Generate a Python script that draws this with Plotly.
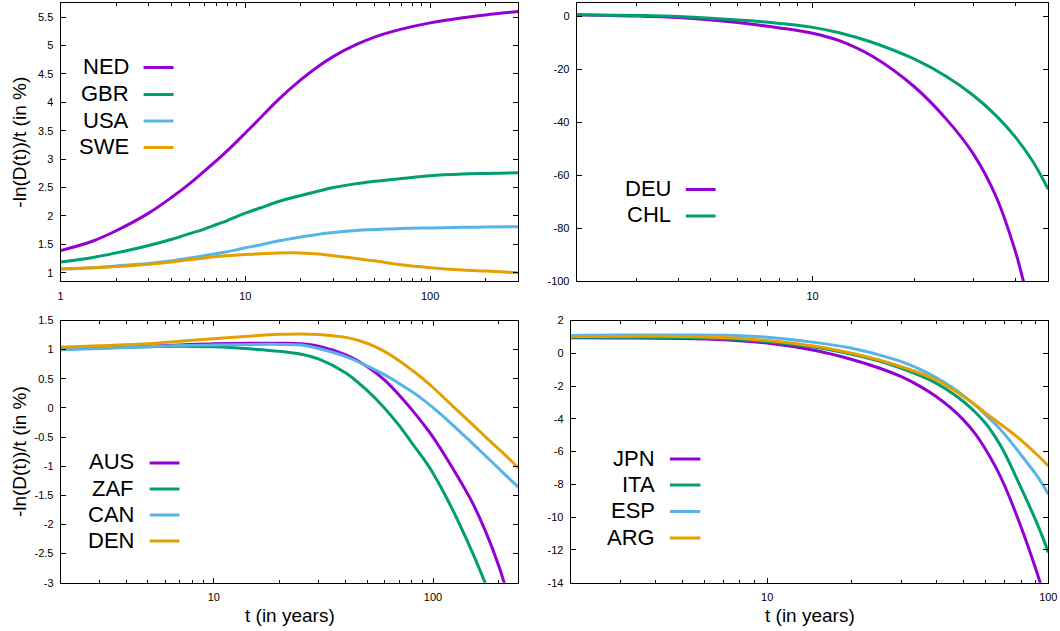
import math
import plotly.graph_objects as go

W, H = 1060, 631

# ---------------- data ----------------
# Panel 1 (top-left)
t_p1 = [1, 1.5, 2, 3, 4, 5, 6, 7, 8, 10, 12, 15, 20, 25, 30, 40, 50, 70, 100, 150, 200, 300]
ned = [1.39, 1.56, 1.74, 2.05, 2.33, 2.57, 2.79, 2.98, 3.15, 3.46, 3.72, 4.04, 4.40, 4.64, 4.81, 5.02, 5.15, 5.29, 5.40, 5.49, 5.54, 5.60]
gbr = [1.19, 1.27, 1.35, 1.48, 1.59, 1.69, 1.77, 1.85, 1.92, 2.05, 2.14, 2.25, 2.36, 2.44, 2.50, 2.57, 2.61, 2.66, 2.71, 2.74, 2.75, 2.76]
usa = [1.065, 1.09, 1.12, 1.165, 1.21, 1.26, 1.30, 1.34, 1.37, 1.44, 1.49, 1.56, 1.63, 1.68, 1.71, 1.745, 1.76, 1.78, 1.79, 1.80, 1.805, 1.81]
swe = [1.065, 1.09, 1.11, 1.15, 1.19, 1.23, 1.26, 1.285, 1.30, 1.32, 1.335, 1.35, 1.35, 1.33, 1.30, 1.25, 1.21, 1.14, 1.09, 1.05, 1.03, 1.00]

# Panel 2 (top-right)
t_deu = [2, 3, 4, 5, 6, 7, 8, 10, 12, 15, 20, 25, 30, 35, 40, 42, 44]
deu = [0.6, 0.1, -0.5, -1.4, -2.4, -3.4, -4.4, -6.4, -9.2, -15.0, -26.5, -39.0, -52.0, -68.0, -89.0, -99.0, -109.0]
t_chl = [2, 3, 4, 5, 6, 7, 8, 10, 12, 15, 20, 25, 30, 35, 40, 45, 50]
chl = [0.6, 0.3, -0.1, -0.8, -1.4, -2.0, -2.7, -4.2, -6.2, -9.8, -16.1, -22.8, -29.9, -37.5, -45.7, -54.8, -65.3]

# Panel 3 (bottom-left)
t_p3 = [2, 3, 5, 7, 10, 15, 20, 25, 30, 40, 50, 60, 70, 80, 90, 100, 120, 150, 175, 200, 215, 245]
aus = [1.02, 1.03, 1.06, 1.08, 1.10, 1.11, 1.11, 1.10, 1.06, 0.91, 0.71, 0.48, 0.22, -0.03, -0.27, -0.50, -0.97, -1.60, -2.15, -2.72, -3.10, None]
zaf = [1.01, 1.03, 1.05, 1.06, 1.05, 1.01, 0.97, 0.92, 0.84, 0.60, 0.30, 0.00, -0.30, -0.60, -0.86, -1.12, -1.67, -2.45, -3.05, None, None, None]
can = [1.00, 1.02, 1.05, 1.07, 1.08, 1.09, 1.09, 1.08, 1.02, 0.88, 0.72, 0.57, 0.42, 0.28, 0.142, 0.005, -0.256, -0.595, -0.835, -1.044, -1.157, -1.36]
den = [1.04, 1.065, 1.10, 1.145, 1.185, 1.235, 1.262, 1.27, 1.26, 1.21, 1.11, 0.97, 0.81, 0.65, 0.50, 0.35, 0.07, -0.27, -0.51, -0.71, -0.82, -1.03]

# Panel 4 (bottom-right)
t_p4 = [2, 3, 5, 7, 10, 15, 20, 25, 30, 35, 40, 45, 50, 55, 60, 65, 70, 80, 90, 95, 100]
jpn = [0.94, 0.93, 0.90, 0.82, 0.62, 0.15, -0.38, -0.90, -1.43, -2.02, -2.65, -3.33, -4.08, -4.92, -5.90, -6.95, -8.10, -10.6, -13.1, -14.35, -15.6]
ita = [0.98, 0.98, 0.96, 0.88, 0.71, 0.35, -0.06, -0.48, -0.92, -1.37, -1.84, -2.38, -2.96, -3.60, -4.30, -5.15, -6.10, -8.22, -10.15, -11.13, -12.15]
esp = [1.09, 1.11, 1.12, 1.10, 0.98, 0.65, 0.31, -0.10, -0.51, -0.98, -1.50, -2.03, -2.60, -3.17, -3.78, -4.35, -4.95, -6.20, -7.35, -7.95, -8.60]
arg = [1.03, 1.03, 1.03, 0.96, 0.78, 0.41, 0.00, -0.41, -0.82, -1.22, -1.63, -2.14, -2.65, -3.16, -3.67, -4.10, -4.52, -5.30, -6.10, -6.48, -6.88]

# tick labels
p1_xticks, p1_xlabels = [1, 10, 100], ["1", "10", "100"]
p1_yticks = [1, 1.5, 2, 2.5, 3, 3.5, 4, 4.5, 5, 5.5]
p1_ylabels = ["1", "1.5", "2", "2.5", "3", "3.5", "4", "4.5", "5", "5.5"]
p2_xticks, p2_xlabels = [10], ["10"]
p2_yticks = [0, -20, -40, -60, -80, -100]
p2_ylabels = ["0", "-20", "-40", "-60", "-80", "-100"]
p3_xticks, p3_xlabels = [10, 100], ["10", "100"]
p3_yticks = [1.5, 1, 0.5, 0, -0.5, -1, -1.5, -2, -2.5, -3]
p3_ylabels = ["1.5", "1", "0.5", "0", "-0.5", "-1", "-1.5", "-2", "-2.5", "-3"]
p4_xticks, p4_xlabels = [10, 100], ["10", "100"]
p4_yticks = [2, 0, -2, -4, -6, -8, -10, -12, -14]
p4_ylabels = ["2", "0", "-2", "-4", "-6", "-8", "-10", "-12", "-14"]

minor_lo = [2, 3, 4, 5, 6, 7, 8, 9]
minor_mid = [20, 30, 40, 50, 60, 70, 80, 90]
minor_hi = [200, 300]

ylabel_text = "-ln(D(t))/t (in %)"
xlabel_text = "t (in years)"

C_PURPLE = "#9400D3"
C_GREEN = "#009E73"
C_BLUE = "#56B4E9"
C_ORANGE = "#E69F00"

# ---------------- geometry (page pixels) ----------------
panels = {
    1: dict(x0=60.5, x1=518.3, y0=3.0, y1=281.3),
    2: dict(x0=576.7, x1=1048.3, y0=3.0, y1=281.3),
    3: dict(x0=60.7, x1=518.3, y0=320.5, y1=582.7),
    4: dict(x0=570.7, x1=1048.3, y0=320.5, y1=582.7),
}


def px(x):
    return x / W


def py(y):
    return 1 - y / H


def xdom(p):
    return [px(p["x0"]), px(p["x1"])]


def ydom(p):
    return [py(p["y1"]), py(p["y0"])]


FONT = "Liberation Sans, Arial, sans-serif"

fig = go.Figure()

series = [
    (1, t_p1, ned, "NED", C_PURPLE),
    (1, t_p1, gbr, "GBR", C_GREEN),
    (1, t_p1, usa, "USA", C_BLUE),
    (1, t_p1, swe, "SWE", C_ORANGE),
    (2, t_deu, deu, "DEU", C_PURPLE),
    (2, t_chl, chl, "CHL", C_GREEN),
    (3, t_p3, aus, "AUS", C_PURPLE),
    (3, t_p3, zaf, "ZAF", C_GREEN),
    (3, t_p3, can, "CAN", C_BLUE),
    (3, t_p3, den, "DEN", C_ORANGE),
    (4, t_p4, jpn, "JPN", C_PURPLE),
    (4, t_p4, ita, "ITA", C_GREEN),
    (4, t_p4, esp, "ESP", C_BLUE),
    (4, t_p4, arg, "ARG", C_ORANGE),
]

for k, tx, ty, name, col in series:
    xs = [a for a, b in zip(tx, ty) if b is not None]
    ys = [b for b in ty if b is not None]
    suffix = "" if k == 1 else str(k)
    fig.add_trace(go.Scatter(
        x=xs, y=ys, mode="lines", name=name,
        line=dict(color=col, width=3, shape="spline", smoothing=1.0),
        xaxis="x" + suffix, yaxis="y" + suffix, showlegend=False,
        hoverinfo="skip",
    ))

axis_common = dict(
    showgrid=False, zeroline=False, showline=True, linecolor="black", linewidth=1,
    mirror="ticks", ticks="inside", ticklen=5, tickwidth=1, tickcolor="black",
    tickfont=dict(family=FONT, size=11, color="black"),
    tickmode="array", automargin=False,
)

xcfg = {
    1: dict(rng=[1, 300], tv=p1_xticks, tt=p1_xlabels, minor=minor_lo + minor_mid + minor_hi),
    2: dict(rng=[2, 50], tv=p2_xticks, tt=p2_xlabels, minor=minor_lo + [20, 30, 40, 50]),
    3: dict(rng=[2, 245], tv=p3_xticks, tt=p3_xlabels, minor=minor_lo + minor_mid + [200]),
    4: dict(rng=[2, 100], tv=p4_xticks, tt=p4_xlabels, minor=minor_lo + minor_mid),
}
ycfg = {
    1: dict(rng=[0.85, 5.75], tv=p1_yticks, tt=p1_ylabels),
    2: dict(rng=[-100, 5], tv=p2_yticks, tt=p2_ylabels),
    3: dict(rng=[-3, 1.5], tv=p3_yticks, tt=p3_ylabels),
    4: dict(rng=[-14, 2], tv=p4_yticks, tt=p4_ylabels),
}

layout_axes = {}
for k in range(1, 5):
    suffix = "" if k == 1 else str(k)
    p = panels[k]
    xc, yc = xcfg[k], ycfg[k]
    layout_axes["xaxis" + suffix] = dict(
        axis_common, type="log", domain=xdom(p),
        range=[math.log10(xc["rng"][0]), math.log10(xc["rng"][1])],
        tickvals=xc["tv"], ticktext=xc["tt"], anchor="y" + suffix,
        ticklabelstandoff=4,
        minor=dict(tickmode="array", tickvals=xc["minor"], ticks="inside",
                   ticklen=3, tickcolor="black", tickwidth=1, showgrid=False),
    )
    layout_axes["yaxis" + suffix] = dict(
        axis_common, domain=ydom(p), range=yc["rng"],
        tickvals=yc["tv"], ticktext=yc["tt"], anchor="x" + suffix,
        ticklabelstandoff=4,
    )

fig.update_layout(
    template="none",
    width=W, height=H, autosize=False,
    margin=dict(l=0, r=0, t=0, b=0, pad=0, autoexpand=False),
    paper_bgcolor="white", plot_bgcolor="white",
    showlegend=False,
    **layout_axes,
)

annotations = []
shapes = []

# axis titles
for k in (1, 3):
    p = panels[k]
    annotations.append(dict(
        text=ylabel_text, xref="paper", yref="paper",
        x=px(19.5), y=py((p["y0"] + p["y1"]) / 2),
        xanchor="center", yanchor="middle", textangle=-90, showarrow=False,
        font=dict(family=FONT, size=19, color="black"),
    ))
for k in (3, 4):
    p = panels[k]
    annotations.append(dict(
        text=xlabel_text, xref="paper", yref="paper",
        x=px((p["x0"] + p["x1"]) / 2), y=py(615),
        xanchor="center", yanchor="middle", showarrow=False,
        font=dict(family=FONT, size=19, color="black"),
    ))

# in-plot keys (text, then a line sample), gnuplot style
keys = [
    (131, 143.6, 173.5, [(67.5, "NED", C_PURPLE), (94.5, "GBR", C_GREEN),
                         (121, "USA", C_BLUE), (147.5, "SWE", C_ORANGE)]),
    (673, 685.8, 715.6, [(189.5, "DEU", C_PURPLE), (216, "CHL", C_GREEN)]),
    (136, 149.7, 179.5, [(463, "AUS", C_PURPLE), (489, "ZAF", C_GREEN),
                         (515, "CAN", C_BLUE), (541, "DEN", C_ORANGE)]),
    (657, 669.9, 700.4, [(459, "JPN", C_PURPLE), (485, "ITA", C_GREEN),
                         (511.5, "ESP", C_BLUE), (538, "ARG", C_ORANGE)]),
]
for tx, lx0, lx1, rows in keys:
    for y, name, col in rows:
        annotations.append(dict(
            text=name, xref="paper", yref="paper", x=px(tx), y=py(y - 1),
            xanchor="right", yanchor="middle", showarrow=False,
            font=dict(family=FONT, size=22, color="black"),
        ))
        shapes.append(dict(
            type="line", xref="paper", yref="paper",
            x0=px(lx0), x1=px(lx1), y0=py(y), y1=py(y),
            line=dict(color=col, width=3),
        ))

fig.update_layout(annotations=annotations, shapes=shapes)

# remove the default 8px body margin so the 1060x631 figure fills the window
fig.write_html(
    "out.html",
    config={"displayModeBar": False, "responsive": False},
    post_script="document.body.style.margin='0px';document.body.style.overflow='hidden';",
)
